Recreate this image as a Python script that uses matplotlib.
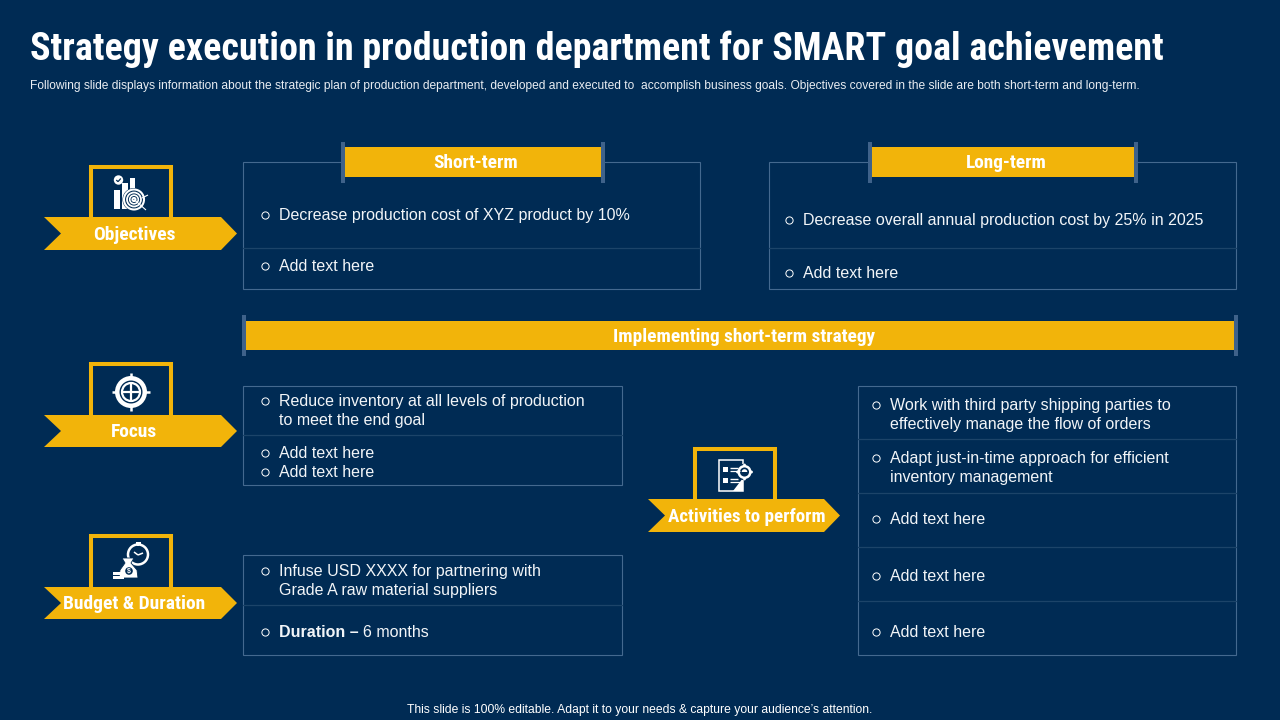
import matplotlib
matplotlib.use("Agg")
import matplotlib.pyplot as plt
from matplotlib.patches import Rectangle, Polygon, Circle, Wedge

BG = "#002B54"
GOLD = "#F2B40A"
EDGE = "#44698F"
DIV = "#1C4469"
CAP = "#3F628A"
WHITE = "#FFFFFF"
BODY = ["Liberation Sans", "DejaVu Sans"]
NARROW = ["Roboto Condensed", "Roboto", "DejaVu Sans"]

title = "Strategy execution in production department for SMART goal achievement"
subtitle = ("Following slide displays information about the strategic plan of production department, developed and executed to "
            " accomplish business goals. Objectives covered in the slide are both short-term and long-term.")
footer = "This slide is 100% editable. Adapt it to your needs & capture your audience\u2019s attention."

ribbons = ["Objectives", "Focus", "Budget & Duration", "Activities to perform"]
headers = ["Short-term", "Long-term", "Implementing short-term strategy"]

short_items = ["Decrease production cost of XYZ product by 10%", "Add text here"]
long_items = ["Decrease overall annual production cost by 25% in 2025", "Add text here"]
focus_items = ["Reduce inventory at all levels of production\nto meet the end goal", "Add text here", "Add text here"]
budget_items = ["Infuse USD XXXX for partnering with\nGrade A raw material suppliers"]
duration_value = "6 months"
activity_items = ["Work with third party shipping parties to\neffectively manage the flow of orders",
                  "Adapt just-in-time approach for efficient\ninventory management",
                  "Add text here", "Add text here", "Add text here"]

fig = plt.figure(figsize=(12.8, 7.2), dpi=100, facecolor=BG)
ax = fig.add_axes([0, 0, 1, 1])
ax.set_xlim(0, 1280)
ax.set_ylim(720, 0)
ax.axis("off")


def rect(x0, y0, x1, y1, fc="none", ec="none", lw=0, z=2):
    ax.add_patch(Rectangle((x0, y0), x1 - x0, y1 - y0, facecolor=fc, edgecolor=ec, linewidth=lw, zorder=z))


def panel(x0, y0, x1, y1, dividers):
    rect(x0, y0, x1 - 1, y1 - 1, ec=EDGE, lw=0.8)
    for d in dividers:
        ax.plot([x0, x1 - 1], [d, d], color=DIV, lw=0.9, zorder=2)


def bullet(x, y):
    ax.plot([x], [y], "o", ms=5.2, mfc="none", mec=WHITE, mew=0.7, zorder=4)


def item(x, y, text):
    """y is the centre of the first line."""
    bullet(x, y + 0.5)
    for i, part in enumerate(text.split("\n")):
        ax.text(x + 14, y + 0.7 + i * 19.3, part, color="#F2F5F8", fontsize=11.5, family=BODY, va="center", ha="left", zorder=4)


def header(x0, x1, y0, y1, capt, capb, text, dx=3, fs=13.9):
    rect(x0, y0, x1, y1, fc=GOLD, z=3)
    rect(x0 - 2, capt, x0 + 2, capb, fc=CAP, z=4)
    rect(x1 - 2, capt, x1 + 2, capb, fc=CAP, z=4)
    ax.text((x0 + x1) / 2 + dx, (y0 + y1) / 2 + 1, text, color=WHITE, fontsize=fs, fontweight="bold",
            family=NARROW, va="center", ha="center", zorder=5)


def ribbon(x0, top, bottom, boxtop, boxx0, boxx1, text, width=193, fs=14.0, dx=-6):
    mid = (top + bottom) / 2
    rect(boxx0 + 2, boxtop + 2, boxx1 - 2, top + 2, ec=GOLD, lw=2.9, z=2)
    ax.add_patch(Polygon([(x0, top), (x0 + width - 16, top), (x0 + width, mid), (x0 + width - 16, bottom),
                          (x0, bottom), (x0 + 17, mid)], closed=True, facecolor=GOLD, edgecolor="none", zorder=3))
    ax.text(x0 + width / 2 + dx, mid + 1, text, color=WHITE, fontsize=fs, fontweight="bold",
            family=NARROW, va="center", ha="center", zorder=5)


def ring(cx, cy, r, lw=1.2, fc="none", ec=WHITE):
    ax.add_patch(Circle((cx, cy), r, facecolor=fc, edgecolor=ec, linewidth=lw, zorder=5))


def line(x0, y0, x1, y1, lw=1.0, c=WHITE):
    ax.plot([x0, x1], [y0, y1], color=c, lw=lw, zorder=6, solid_capstyle="butt")


def icon_objectives():
    rect(114, 190, 120, 209, fc=WHITE, z=5)
    rect(122, 183, 128, 209, fc=WHITE, z=5)
    rect(130, 178, 135, 209, fc=WHITE, z=5)
    ring(118.5, 180, 4.7, lw=0, fc=WHITE)
    line(116.3, 180, 118, 181.7, 0.9, BG)
    line(118, 181.7, 120.8, 178.5, 0.9, BG)
    ring(134, 199.5, 11.5, lw=0, fc=BG)
    for r, lw in ((10, 1.5), (7, 1.3), (4.3, 1.2), (1.6, 1.4)):
        ring(134, 199.5, r, lw=lw)
    line(134, 199.5, 146, 210, 0.8)
    line(142, 198, 148, 195, 0.8)


def icon_focus():
    cx, cy = 131, 392
    ring(cx, cy, 16, lw=0, fc=WHITE)
    ring(cx, cy, 11.5, lw=0, fc=BG)
    ring(cx, cy, 9, lw=1.6)
    line(cx - 19, cy, cx - 14, cy, 1.8)
    line(cx + 14, cy, cx + 19, cy, 1.8)
    line(cx, cy - 19, cx, cy - 14, 1.8)
    line(cx, cy + 14, cx, cy + 19, 1.8)
    line(cx - 9, cy, cx + 9, cy, 1.6)
    line(cx, cy - 9, cx, cy + 9, 1.6)


def icon_budget():
    ring(138, 554.5, 10, lw=1.8)
    rect(135.5, 542, 141, 544.5, fc=WHITE, z=5)
    line(138.3, 544, 138.3, 546, 1.4)
    line(138, 555, 134, 552, 1.1)
    line(138, 555, 143, 553, 1.1)
    ax.add_patch(Polygon([(122, 558), (134, 558), (131, 563), (137, 570), (138, 578), (119, 578), (120, 570), (125, 563)],
                         closed=True, facecolor=WHITE, edgecolor=BG, linewidth=0.6, zorder=7))
    ax.add_patch(Circle((129, 571), 3.8, facecolor=BG, edgecolor="none", zorder=8))
    ax.text(129, 571.2, "$", color=WHITE, fontsize=5, fontweight="bold", family=BODY, va="center", ha="center", zorder=9)
    rect(113, 571.5, 123, 574.5, fc=WHITE, z=8)
    rect(113, 575.5, 124, 578.5, fc=WHITE, z=8)


def icon_activities():
    rect(719, 460, 743, 491, ec=WHITE, lw=1.1, z=5)
    ax.add_patch(Polygon([(743, 478), (743, 491), (733, 491)], closed=True, facecolor=WHITE, zorder=5))
    for y in (469, 480):
        rect(722.5, y - 2.5, 727.5, y + 2.5, fc=WHITE, z=6)
        line(730, y - 1, 738, y - 1, 1.0)
        line(730, y + 2, 740, y + 2, 0.9)
    ring(744.5, 472, 8.2, lw=0, fc=BG)
    ring(744.5, 472, 5.8, lw=1.8)
    for dx, dy in ((-7, 0), (7, 0), (0, -7), (0, 7)):
        ring(744.5 + dx, 472 + dy, 1.4, lw=0, fc=WHITE)
    ax.add_patch(Wedge((744.5, 472), 2.8, 180, 360, facecolor=WHITE, zorder=6))


# headline text
ax.text(30, 49.5, title, color=WHITE, fontsize=27.4, fontweight="bold", family=NARROW, va="center", ha="left", zorder=5)
ax.text(30, 85.5, subtitle, color="#E9EDF2", fontsize=8.62, family=BODY, va="center", ha="left", zorder=5)
ax.text(639.5, 710, footer, color=WHITE, fontsize=8.7, family=BODY, va="center", ha="center", zorder=5)

# panels
panel(243, 162, 701, 290, [248])
panel(769, 162, 1237, 290, [248])
panel(243, 386, 623, 486, [435])
panel(243, 555, 623, 656, [605])
panel(858, 386, 1237, 656, [439, 493, 547, 601])

# headers
header(343, 603, 147, 177, 142, 183, headers[0], dx=3)
header(870, 1136, 147, 177, 142, 183, headers[1], dx=3.5)
header(244, 1236, 321, 350, 315, 356, headers[2], dx=4.5)

# ribbons
ribbon(44, 217, 250, 165, 89, 173, ribbons[0])
ribbon(44, 415, 447, 362, 89, 173, ribbons[1])
ribbon(44, 587, 619, 534, 89, 173, ribbons[2])
ribbon(648, 499, 532, 447, 693, 777, ribbons[3], width=192, fs=13.65, dx=2.5)

icon_objectives()
icon_focus()
icon_budget()
icon_activities()

# list text
for y, t in zip((214.5, 265.5), short_items):
    item(265, y, t)
for y, t in zip((219.5, 272.5), long_items):
    item(789, y, t)
for y, t in zip((400.5, 452.5, 471.5), focus_items):
    item(265, y, t)
item(265, 570.5, budget_items[0])
bullet(265, 632)
ax.text(279, 632.2, "Duration \u2013", color="#F2F5F8", fontsize=11.5, fontweight="bold", family=BODY, va="center", ha="left", zorder=4)
ax.text(363, 632.2, duration_value, color="#F2F5F8", fontsize=11.5, family=BODY, va="center", ha="left", zorder=4)
for y, t in zip((404.5, 457.5, 518.5, 575.5, 631.5), activity_items):
    item(876, y, t)

fig.savefig("out.png", dpi=100, facecolor=BG)
